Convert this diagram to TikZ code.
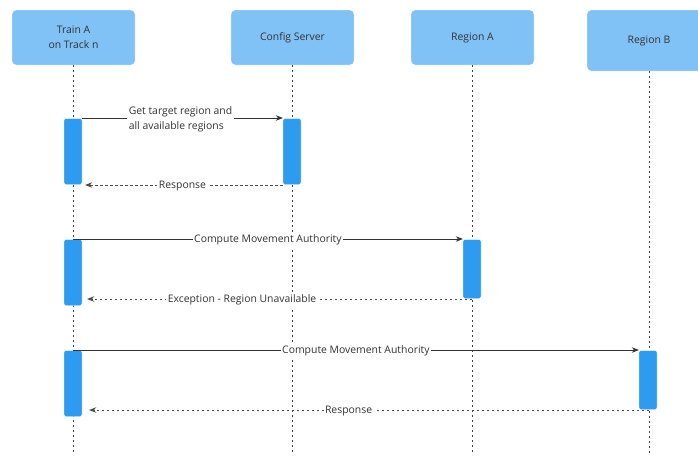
\documentclass[tikz,border=0pt]{standalone}
\usepackage{fontspec}
\setmainfont{Open Sans}
\usetikzlibrary{arrows.meta}
\definecolor{headfill}{HTML}{80C2F6}
\definecolor{actfill}{HTML}{2D9BF0}
\definecolor{txt}{HTML}{333333}
\begin{document}
\begin{tikzpicture}[x=1pt,y=-1pt,
  font=\fontsize{10.4}{15}\selectfont,
  head/.style={draw=white,fill=headfill,rounded corners=4pt,text=txt,align=center},
  act/.style={draw=white,fill=actfill,rounded corners=2pt},
  life/.style={draw=black!75,line width=0.6pt,dash pattern=on 2pt off 3pt},
  call/.style={draw=black!80,line width=0.75pt,-{Stealth[length=7pt,width=5.5pt]}},
  reply/.style={draw=black!70,line width=0.75pt,dash pattern=on 2.5pt off 2.5pt,-{Stealth[length=7pt,width=5.5pt]}},
  lbl/.style={fill=white,text=txt,inner sep=1.5pt,yshift=-1.2pt}]
\useasboundingbox (0,0) rectangle (698,455);
\begin{scope}
\clip (0,0) rectangle (698,455);
% participants
\path[head] (12,10) rectangle (135,65);
\node[text=txt,align=center] (ta) at (73.5,37.5) {Train A\\on Track n};
\path[head] (231,10) rectangle (354,65);
\node[text=txt] (cs) at (292.5,37.5) {Config Server};
\path[head] (411,10) rectangle (534,65);
\node[text=txt] (ra) at (472.5,37.5) {Region A};
\path[head] (587,10) rectangle (712,71);
\node[text=txt] (rb) at (649,40.5) {Region B};
% lifelines
\coordinate (tatop) at (73,65); \coordinate (tabot) at (73,455);
\coordinate (cstop) at (292,65); \coordinate (csbot) at (292,455);
\coordinate (ratop) at (472,65); \coordinate (rabot) at (472,455);
\coordinate (rbtop) at (649,71); \coordinate (rbbot) at (649,455);
\draw[life] (tatop) -- (tabot);
\draw[life] (cstop) -- (csbot);
\draw[life] (ratop) -- (rabot);
\draw[life] (rbtop) -- (rbbot);
\end{scope}
% activations
\node[act,minimum width=18pt,minimum height=66pt,inner sep=0pt] (a1) at (73,151.5) {};
\node[act,minimum width=18pt,minimum height=66pt,inner sep=0pt] (c1) at (292,151.5) {};
\node[act,minimum width=18pt,minimum height=66pt,inner sep=0pt] (a2) at (73,272.5) {};
\node[act,minimum width=18pt,minimum height=59pt,inner sep=0pt] (r2) at (472,269) {};
\node[act,minimum width=18pt,minimum height=66pt,inner sep=0pt] (a3) at (73,383.5) {};
\node[act,minimum width=18pt,minimum height=59pt,inner sep=0pt] (r3) at (648,380) {};
% messages
\draw[call] (a1.east |- 0,118) -- (c1.west |- 0,118)
  node[lbl,pos=0.49,align=left] {Get target region and\\all available regions};
\draw[reply,shorten >=3pt] (c1.west |- 0,185) -- (a1.east |- 0,185)
  node[lbl,pos=0.5] {Response};
\draw[call] (73,239) -- (r2.west |- 0,239)
  node[lbl,pos=0.5] {Compute Movement Authority};
\draw[reply,shorten >=5pt] (472,299) -- (a2.east |- 0,299)
  node[lbl,pos=0.59] {Exception - Region Unavailable};
\draw[call] (73,350) -- (r3.west |- 0,350)
  node[lbl,pos=0.5] {Compute Movement Authority};
\draw[reply,shorten >=7pt] (649,410) -- (a3.east |- 0,410)
  node[lbl,pos=0.53] {Response};
\end{tikzpicture}
\end{document}
